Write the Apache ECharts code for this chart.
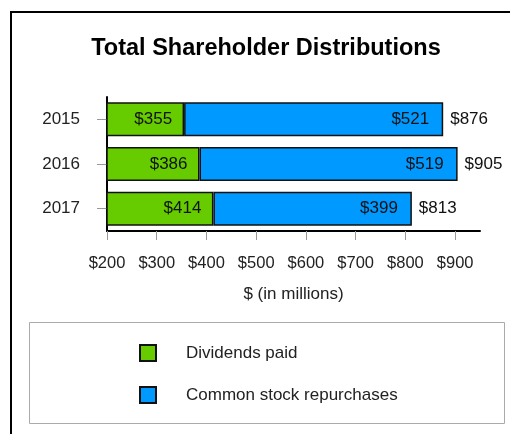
<!DOCTYPE html>
<html>
<head>
<meta charset="utf-8">
<script src="https://cdn.jsdelivr.net/npm/echarts@6/dist/echarts.min.js"></script>
<style>
  html, body { margin: 0; padding: 0; background: #fff; }
  #chart_container { width: 510px; height: 434px; }
</style>
</head>
<body>
<div id="chart_container"></div>
<script>
var years = ['2015', '2016', '2017'];
var dividends = [355, 386, 414];
var repurchases = [521, 519, 399];
var xTicks = [200, 300, 400, 500, 600, 700, 800, 900];

var totals = [];
for (var i = 0; i < years.length; i++) {
    totals.push([dividends[i] + repurchases[i], years[i]]);
}

var dom = document.getElementById("chart_container");
var myChart = echarts.init(dom);
var font = 'Arial, "Liberation Sans", sans-serif';

var option = {
    backgroundColor: '#fff',
    animation: false,
    title: {
        text: 'Total Shareholder Distributions',
        left: 266,
        textAlign: 'center',
        top: 37,
        padding: 0,
        textStyle: { fontFamily: font, fontSize: 23.5, fontWeight: 'bold', color: '#000' }
    },
    // outer frame and legend box
    graphic: [
        { type: 'rect', shape: { x: 11, y: 12, width: 530, height: 440 },
          style: { fill: null, stroke: '#000', lineWidth: 2 }, silent: true },
        { type: 'rect', shape: { x: 29.5, y: 322.5, width: 475, height: 101 },
          style: { fill: null, stroke: '#aaa', lineWidth: 1 }, silent: true }
    ],
    legend: {
        data: ['Dividends paid', 'Common stock repurchases'],
        orient: 'vertical',
        left: 139,
        top: 344,
        padding: 0,
        itemWidth: 16,
        itemHeight: 16,
        itemGap: 24,
        icon: 'rect',
        textStyle: { fontFamily: font, fontSize: 17, color: '#222', padding: [0, 0, 0, 25] }
    },
    grid: { left: 107, right: 30, top: 97, bottom: 203 },
    xAxis: {
        type: 'value',
        min: 200,
        max: 950,
        interval: 100,
        name: '$ (in millions)',
        nameLocation: 'middle',
        nameGap: 55,
        nameTextStyle: { fontFamily: font, fontSize: 17, color: '#222' },
        axisLine: { show: true, lineStyle: { color: '#000', width: 2 } },
        axisTick: { show: true, length: 9, lineStyle: { color: '#999' } },
        axisLabel: {
            fontFamily: font, fontSize: 16.5, color: '#222', margin: 24,
            showMaxLabel: false,
            formatter: function (v) { return xTicks.indexOf(v) >= 0 ? '$' + v : ''; }
        },
        splitLine: { show: false }
    },
    yAxis: {
        type: 'category',
        data: years,
        inverse: true,
        axisLine: { show: true, lineStyle: { color: '#000', width: 2 } },
        axisTick: { show: true, alignWithLabel: true, length: 10, lineStyle: { color: '#999' } },
        axisLabel: { fontFamily: font, fontSize: 17, color: '#222', margin: 27 }
    },
    series: [
        {
            name: 'Dividends paid',
            type: 'bar',
            stack: 'total',
            barWidth: 34,
            data: dividends,
            itemStyle: { color: '#66cc00', borderColor: '#111', borderWidth: 1.5 },
            label: {
                show: true, position: 'insideRight', distance: 12,
                fontFamily: font, fontSize: 17, color: '#111',
                formatter: function (p) { return '$' + p.value; }
            }
        },
        {
            name: 'Common stock repurchases',
            type: 'bar',
            stack: 'total',
            barWidth: 34,
            data: repurchases,
            itemStyle: { color: '#0099ff', borderColor: '#111', borderWidth: 1.5 },
            label: {
                show: true, position: 'insideRight', distance: 14,
                fontFamily: font, fontSize: 17, color: '#111',
                formatter: function (p) { return '$' + p.value; }
            }
        },
        {
            name: 'Total',
            type: 'scatter',
            symbolSize: 0,
            data: totals,
            silent: true,
            itemStyle: { opacity: 1 },
            label: {
                show: true, position: 'right', distance: 7,
                fontFamily: font, fontSize: 17, color: '#111', opacity: 1,
                formatter: function (p) { return '$' + p.value[0]; }
            }
        }
    ]
};

if (option && typeof option === "object") {
    myChart.setOption(option, true);
}
</script>
</body>
</html>
